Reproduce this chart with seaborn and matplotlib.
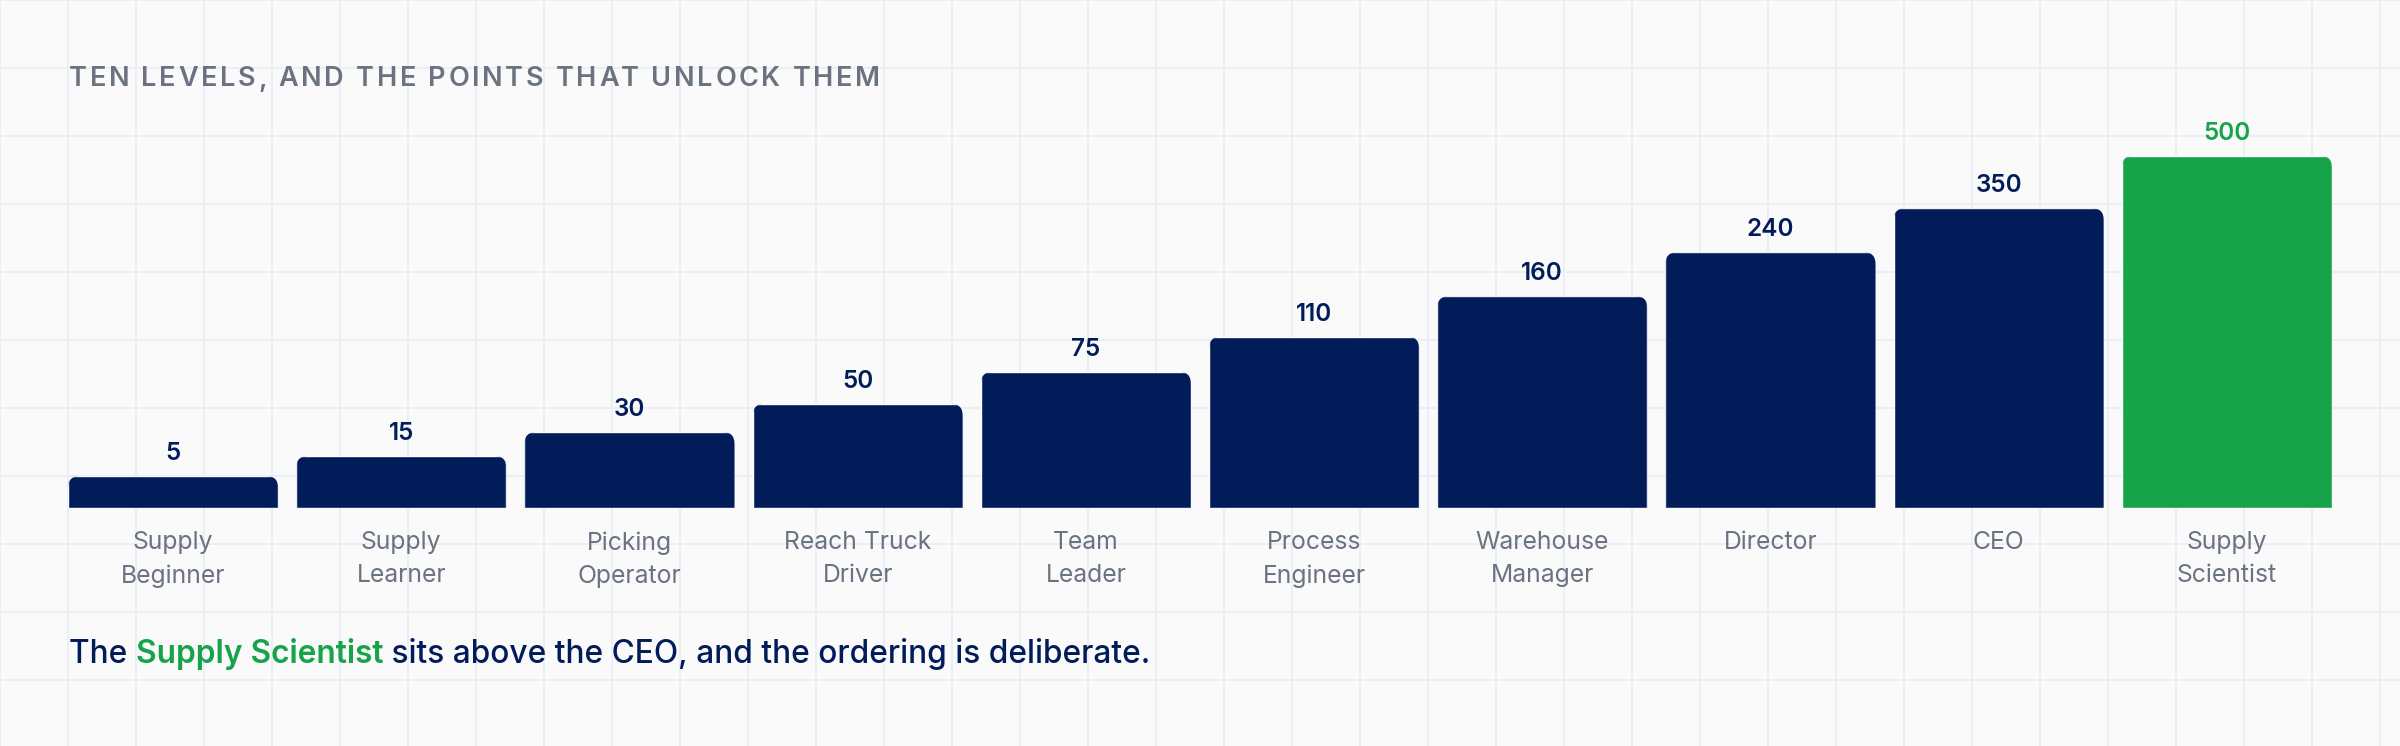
import numpy as np
import pandas as pd
import matplotlib
matplotlib.use("Agg")
import matplotlib.pyplot as plt
from matplotlib.patches import FancyBboxPatch
from matplotlib.font_manager import FontProperties
import seaborn as sns

# data
levels = ["Supply Beginner", "Supply Learner", "Picking Operator", "Reach Truck Driver",
          "Team Leader", "Process Engineer", "Warehouse Manager", "Director", "CEO",
          "Supply Scientist"]
tick_labels = ["Supply\nBeginner", "Supply\nLearner", "Picking\nOperator", "Reach Truck\nDriver",
               "Team\nLeader", "Process\nEngineer", "Warehouse\nManager", "Director", "CEO",
               "Supply\nScientist"]
points = [5, 15, 30, 50, 75, 110, 160, 240, 350, 500]
# drawn bar height, % of the tallest bar (the bars are not proportional to the points)
bar_height = [9.0, 14.7, 21.5, 29.5, 38.6, 48.6, 60.1, 72.6, 85.1, 100.0]
highlight = "Supply Scientist"

title = "TEN LEVELS, AND THE POINTS THAT UNLOCK THEM"
footer = [("The ", "medium", "navy"), ("Supply Scientist", "semibold", "green"),
          (" sits above the CEO, and the ordering is deliberate.", "medium", "navy")]

NAVY = "#021c5a"
GREEN = "#16a34a"
GRAY = "#6b7280"
BG = "#fafafa"
GRID = "#eaeef5"
FONT = ["Inter", "DejaVu Sans"]

sns.set_theme(style="white")
plt.rcParams["font.family"] = FONT

W, H = 2400, 746
fig = plt.figure(figsize=(W / 100, H / 100), dpi=100, facecolor=BG)

# background squared paper
bg = fig.add_axes([0, 0, 1, 1], zorder=-1)
bg.set_xlim(0, W)
bg.set_ylim(H, 0)
bg.set_facecolor(BG)
bg.vlines(np.arange(0, W, 68), 0, H, color=GRID, lw=1.4)
bg.hlines(np.arange(0, H, 68), 0, W, color=GRID, lw=1.4)
bg.axis("off")

ax = fig.add_axes([59 / W, 238.3 / H, 2282 / W, 352 * 1.1 / H])
ax.patch.set_visible(False)

df = pd.DataFrame({"level": levels, "height": bar_height, "points": points})
palette = {lv: (GREEN if lv == highlight else NAVY) for lv in levels}
sns.barplot(data=df, x="level", y="height", hue="level", palette=palette, legend=False,
            width=210 / 228, saturation=1, ax=ax)

ax.set_xlim(-0.5, len(levels) - 0.5)
ax.set_ylim(0, 110)
ax.set_xlabel("")
ax.set_ylabel("")
ax.set_yticks([])
ax.set_xticks(range(len(levels)))
ax.set_xticklabels(tick_labels, fontsize=17.8, color=GRAY, linespacing=1.55)
ax.tick_params(axis="x", length=0, pad=17)
for s in ax.spines.values():
    s.set_visible(False)

# round the top corners only
fig.canvas.draw()
px_x = ax.transData.transform((1, 0))[0] - ax.transData.transform((0, 0))[0]
px_y = ax.transData.transform((0, 1))[1] - ax.transData.transform((0, 0))[1]
radius = 12 / px_x
for bar in ax.patches:
    x0, w, h = bar.get_x(), bar.get_width(), bar.get_height()
    clip = FancyBboxPatch((x0, -30), w, h + 30,
                          boxstyle=f"round,pad=0,rounding_size={radius}",
                          mutation_aspect=px_x / px_y, transform=ax.transData)
    bar.set_clip_path(clip)

for i, (h, p) in enumerate(zip(bar_height, points)):
    ax.annotate(str(p), (i, h), xytext=(0, 11.5), textcoords="offset points",
                ha="center", va="baseline", fontsize=17.5, fontweight="semibold",
                color=GREEN if levels[i] == highlight else NAVY)

renderer = fig.canvas.get_renderer()


def text_width(s, prop):
    w, _, _ = renderer.get_text_width_height_descent(s + "I", prop, ismath=False)
    wi, _, _ = renderer.get_text_width_height_descent("I", prop, ismath=False)
    return w - wi


# letter-spaced title
tprop = FontProperties(family=FONT, weight="semibold", size=19.5)
track = 2.65
for k, ch in enumerate(title):
    x = 69 + text_width(title[:k], tprop) + k * track
    fig.text(x / W, (H - 86) / H, ch, fontproperties=tprop, color=GRAY,
             ha="left", va="baseline")

# footer sentence with the highlighted words
x = 69
for part, weight, col in footer:
    fprop = FontProperties(family=FONT, weight=weight, size=22.8)
    fig.text(x / W, (H - 663) / H, part, fontproperties=fprop,
             color=GREEN if col == "green" else NAVY, ha="left", va="baseline")
    x += text_width(part, fprop)

fig.savefig("out.png", dpi=100, facecolor=BG)
